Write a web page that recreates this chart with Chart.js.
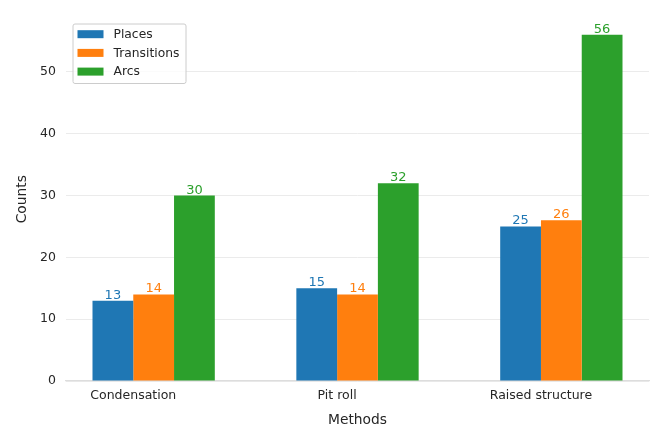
<!DOCTYPE html>
<html><head><meta charset="utf-8">
<script src="https://cdn.jsdelivr.net/npm/chart.js@4/dist/chart.umd.min.js"></script>
<style>html,body{margin:0;padding:0;background:#fff}#wrap{width:664px;height:443px}</style>
</head><body><div id="wrap"><canvas id="c"></canvas></div>
<script>
const categories = ["Condensation", "Pit roll", "Raised structure"];
const seriesNames = ["Places", "Transitions", "Arcs"];
const places = [13, 15, 25];
const transitions = [14, 14, 26];
const arcs = [30, 32, 56];
const colors = ["#1f77b4", "#ff7f0e", "#2ca02c"];
const yTicks = [0, 10, 20, 30, 40, 50];
const FONT = "'DejaVu Sans', sans-serif";
const TEXT = '#262626';

const seriesValues = [places, transitions, arcs];
const datasets = seriesNames.map((n, s) => ({
  label: n,
  data: seriesValues[s].map((v, i) => ({x: i, y: v})),
  backgroundColor: colors[s],
  borderWidth: 0,
  categoryPercentage: 0.6,
  barPercentage: 1.0
}));

const valueLabels = {
  id: 'valueLabels',
  afterDatasetsDraw(chart) {
    const ctx = chart.ctx;
    ctx.save();
    ctx.font = "13px " + FONT;
    ctx.textAlign = 'center';
    ctx.textBaseline = 'alphabetic';
    chart.data.datasets.forEach((ds, di) => {
      chart.getDatasetMeta(di).data.forEach((bar, i) => {
        ctx.fillStyle = ds.backgroundColor;
        ctx.fillText(String(ds.data[i].y), bar.x, bar.y - 2);
      });
    });
    ctx.restore();
  }
};

const innerLegend = {
  id: 'innerLegend',
  afterDraw(chart) {
    const ctx = chart.ctx;
    const a = chart.chartArea;
    const x0 = a.left + 6.5, y0 = a.top + 6, w = 113, h = 59.5;
    ctx.save();
    ctx.fillStyle = 'rgba(255,255,255,0.8)';
    ctx.strokeStyle = '#cccccc';
    ctx.lineWidth = 1;
    ctx.beginPath();
    ctx.roundRect(x0 + 0.5, y0 + 0.5, w, h, 2);
    ctx.fill(); ctx.stroke();
    ctx.font = "12.3px " + FONT;
    ctx.textBaseline = 'middle';
    ctx.textAlign = 'left';
    chart.data.datasets.forEach((ds, i) => {
      const cy = y0 + 10.7 + i * 18.7;
      ctx.fillStyle = ds.backgroundColor;
      ctx.fillRect(x0 + 5, cy - 4, 26, 8);
      ctx.fillStyle = TEXT;
      ctx.fillText(ds.label, x0 + 41, cy + 0.5);
    });
    ctx.restore();
  }
};

new Chart(document.getElementById('c'), {
  type: 'bar',
  data: { datasets },
  plugins: [valueLabels, innerLegend],
  options: {
    responsive: true,
    maintainAspectRatio: false,
    animation: false,
    layout: { padding: { left: 0, right: 15, top: 15, bottom: 0 } },
    plugins: { legend: { display: false }, tooltip: { enabled: false } },
    scales: {
      x: {
        type: 'linear',
        min: -0.43, max: 2.43,
        offset: false,
        afterBuildTicks(scale) { scale.ticks = categories.map((c, i) => ({value: i - 0.1})); },
        afterFit(scale) { scale.height = 62; },
        ticks: {
          callback: (v, idx) => categories[idx],
          font: { family: FONT, size: 12.5 }, color: TEXT, padding: 7,
          maxRotation: 0, autoSkip: false
        },
        grid: { display: false, drawTicks: false },
        border: { display: true, color: '#dddddd', width: 1.2 },
        title: { display: true, text: 'Methods', font: { family: FONT, size: 13.8 }, color: TEXT, padding: { top: 0, bottom: 14 } }
      },
      y: {
        min: 0, max: 58.8,
        afterBuildTicks(scale) { scale.ticks = yTicks.map(v => ({value: v})); },
        afterFit(scale) { scale.width = 66; },
        ticks: { font: { family: FONT, size: 12.5 }, color: TEXT, padding: 10 },
        grid: { color: '#ebebeb', lineWidth: 1, drawTicks: false },
        border: { display: false },
        title: { display: true, text: 'Counts', font: { family: FONT, size: 13.8 }, color: TEXT, padding: { top: 14, bottom: 0 } }
      }
    }
  }
});
</script></body></html>
